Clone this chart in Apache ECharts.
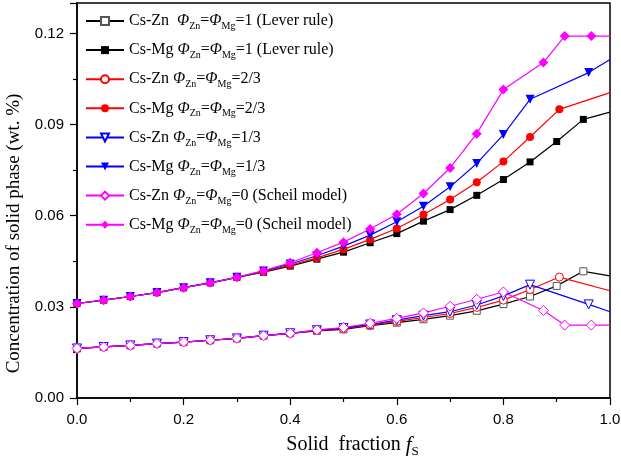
<!DOCTYPE html>
<html>
<head>
<meta charset="utf-8">
<script src="https://cdn.jsdelivr.net/npm/echarts@6.0.0/dist/echarts.min.js"></script>
<style>
  html, body { margin: 0; padding: 0; background: #fff; }
  #chart { width: 621px; height: 470px; }
</style>
</head>
<body>
<div id="chart"></div>
<script>
// --- Data ---

const xTicks = [0, 0.2, 0.4, 0.6, 0.8, 1.0];
const yTicks = [0, 0.03, 0.06, 0.09, 0.12];

// Cs-Zn (open markers, lower curves)
const znLeverX = [0, 0.05, 0.1, 0.15, 0.2, 0.25, 0.3, 0.35, 0.4, 0.45, 0.5, 0.55, 0.6, 0.65, 0.7, 0.75, 0.8, 0.85, 0.9, 0.95, 1.0];
const znLeverY = [0.0163, 0.0168, 0.0173, 0.0179, 0.0184, 0.0190, 0.0196, 0.0205, 0.0213, 0.0221, 0.0226, 0.0238, 0.0248, 0.0259, 0.0271, 0.0287, 0.0309, 0.0334, 0.0369, 0.0417, 0.0402];
const zn23X = [0, 0.05, 0.1, 0.15, 0.2, 0.25, 0.3, 0.35, 0.4, 0.45, 0.5, 0.55, 0.6, 0.65, 0.7, 0.75, 0.8, 0.85, 0.905, 1.0];
const zn23Y = [0.0163, 0.0168, 0.0173, 0.0179, 0.0184, 0.0190, 0.0196, 0.0205, 0.0213, 0.0222, 0.0228, 0.0240, 0.0252, 0.0265, 0.0278, 0.0298, 0.0322, 0.0357, 0.0398, 0.0353];
const zn13X = [0, 0.05, 0.1, 0.15, 0.2, 0.25, 0.3, 0.35, 0.4, 0.45, 0.5, 0.55, 0.6, 0.65, 0.7, 0.75, 0.8, 0.85, 0.96, 1.0];
const zn13Y = [0.0163, 0.0168, 0.0173, 0.0179, 0.0184, 0.0190, 0.0196, 0.0205, 0.0213, 0.0223, 0.0230, 0.0242, 0.0256, 0.0271, 0.0284, 0.0306, 0.0336, 0.0373, 0.0308, 0.0284];
const znScheilX = [0, 0.05, 0.1, 0.15, 0.2, 0.25, 0.3, 0.35, 0.4, 0.45, 0.5, 0.55, 0.6, 0.65, 0.7, 0.75, 0.8, 0.875, 0.915, 0.965, 1.0];
const znScheilY = [0.0163, 0.0168, 0.0173, 0.0179, 0.0184, 0.0190, 0.0196, 0.0205, 0.0213, 0.0224, 0.0232, 0.0246, 0.0262, 0.0280, 0.0302, 0.0325, 0.0349, 0.0288, 0.0240, 0.0240, 0.0240];

// Cs-Mg (filled markers, upper curves)
const mgLeverX = [0, 0.05, 0.1, 0.15, 0.2, 0.25, 0.3, 0.35, 0.4, 0.45, 0.5, 0.55, 0.6, 0.65, 0.7, 0.75, 0.8, 0.85, 0.9, 0.95, 1.0];
const mgLeverY = [0.0311, 0.0322, 0.0334, 0.0347, 0.0363, 0.0379, 0.0397, 0.0414, 0.0434, 0.0457, 0.0480, 0.0511, 0.0541, 0.0582, 0.0620, 0.0667, 0.0719, 0.0777, 0.0844, 0.0917, 0.0941];
const mg23X = [0, 0.05, 0.1, 0.15, 0.2, 0.25, 0.3, 0.35, 0.4, 0.45, 0.5, 0.55, 0.6, 0.65, 0.7, 0.75, 0.8, 0.85, 0.905, 1.0];
const mg23Y = [0.0311, 0.0322, 0.0334, 0.0347, 0.0363, 0.0379, 0.0397, 0.0416, 0.0437, 0.0461, 0.0489, 0.0522, 0.0558, 0.0604, 0.0653, 0.0710, 0.0778, 0.0859, 0.0950, 0.1005];
const mg13X = [0, 0.05, 0.1, 0.15, 0.2, 0.25, 0.3, 0.35, 0.4, 0.45, 0.5, 0.55, 0.6, 0.65, 0.7, 0.75, 0.8, 0.85, 0.96, 1.0];
const mg13Y = [0.0311, 0.0322, 0.0334, 0.0347, 0.0363, 0.0379, 0.0397, 0.0418, 0.0441, 0.0468, 0.0500, 0.0536, 0.0580, 0.0631, 0.0695, 0.0772, 0.0867, 0.0983, 0.1071, 0.1114];
const mgScheilX = [0, 0.05, 0.1, 0.15, 0.2, 0.25, 0.3, 0.35, 0.4, 0.45, 0.5, 0.55, 0.6, 0.65, 0.7, 0.75, 0.8, 0.875, 0.915, 0.965, 1.0];
const mgScheilY = [0.0311, 0.0322, 0.0334, 0.0347, 0.0363, 0.0379, 0.0397, 0.0419, 0.0445, 0.0478, 0.0513, 0.0556, 0.0605, 0.0673, 0.0757, 0.0870, 0.1015, 0.1104, 0.1191, 0.1191, 0.1191];

const seriesNames = [
    'Cs-Zn lever', 'Cs-Mg lever', 'Cs-Zn 2/3', 'Cs-Mg 2/3',
    'Cs-Zn 1/3', 'Cs-Mg 1/3', 'Cs-Zn Scheil', 'Cs-Mg Scheil'
];
const legendLabels = [
    'Cs-Zn  {phi|Φ}{sub|Zn}={phi|Φ}{sub|Mg}=1 (Lever rule)',
    'Cs-Mg {phi|Φ}{sub|Zn}={phi|Φ}{sub|Mg}=1 (Lever rule)',
    'Cs-Zn {phi|Φ}{sub|Zn}={phi|Φ}{sub|Mg}=2/3',
    'Cs-Mg {phi|Φ}{sub|Zn}={phi|Φ}{sub|Mg}=2/3',
    'Cs-Zn {phi|Φ}{sub|Zn}={phi|Φ}{sub|Mg}=1/3',
    'Cs-Mg {phi|Φ}{sub|Zn}={phi|Φ}{sub|Mg}=1/3',
    'Cs-Zn {phi|Φ}{sub|Zn}={phi|Φ}{sub|Mg}=0 (Scheil model)',
    'Cs-Mg {phi|Φ}{sub|Zn}={phi|Φ}{sub|Mg}=0 (Scheil model)'
];

// --- Helpers ---

const SERIF = '"Liberation Serif", "Times New Roman", serif';
const SANS = '"Liberation Sans", Arial, sans-serif';
const DOWN_TRI = 'path://M0,0 L10,0 L5,9 Z';

const toPoints = (xs, ys) => xs.map((x, i) => {
    // the last point sits on the right frame; the original shows no marker there
    if (i === xs.length - 1) return { value: [x, ys[i]], symbol: 'none' };
    return [x, ys[i]];
});

const makeSeries = (name, xs, ys, color, symbol, size, open, stroke) => ({
    name: name,
    type: 'line',
    data: toPoints(xs, ys),
    symbol: symbol,
    symbolSize: size,
    showAllSymbol: true,
    lineStyle: { color: color, width: 1.2 },
    itemStyle: open
        ? { color: '#fff', borderColor: stroke || color, borderWidth: 1 }
        : { color: color, borderColor: color, borderWidth: 0 },
    emphasis: { disabled: true },
    animation: false
});

// --- Chart ---

const chart = echarts.init(document.getElementById('chart'));

const option = {
    backgroundColor: '#fff',
    grid: {
        left: 77, right: 11, top: 3, bottom: 72,
        outerBoundsMode: 'none',
        containLabel: false,
        show: true, borderColor: '#000', borderWidth: 1.5
    },
    legend: {
        orient: 'vertical',
        left: 85,
        top: 13,
        padding: 0,
        itemWidth: 38,
        itemHeight: 10,
        itemGap: 10.6,
        data: seriesNames,
        formatter: (name) => legendLabels[seriesNames.indexOf(name)],
        textStyle: {
            fontFamily: SERIF,
            fontSize: 16,
            color: '#000',
            rich: {
                phi: { fontFamily: SERIF, fontSize: 16, fontStyle: 'italic', color: '#000' },
                sub: { fontFamily: SERIF, fontSize: 10, color: '#000', padding: [11, 0, 0, 0] }
            }
        }
    },
    xAxis: {
        type: 'value',
        min: 0,
        max: 1,
        interval: 0.2,
        name: 'Solid  fraction {f|f}{s|S}',
        nameLocation: 'middle',
        nameGap: 34,
        nameTextStyle: {
            fontFamily: SERIF, fontSize: 20, color: '#000',
            padding: [0, 0, 0, 18],
            rich: {
                f: { fontFamily: SERIF, fontSize: 21, fontStyle: 'italic', color: '#000' },
                s: { fontFamily: SERIF, fontSize: 13, color: '#000', padding: [13, 0, 0, 0] }
            }
        },
        axisLine: { lineStyle: { color: '#000', width: 1.5 } },
        axisTick: { inside: false, length: 7, lineStyle: { color: '#000', width: 1.2 } },
        minorTick: { show: true, splitNumber: 2, length: 4, lineStyle: { color: '#000', width: 1.2 } },
        splitLine: { show: false },
        axisLabel: {
            margin: 14,
            fontFamily: SANS,
            fontSize: 15,
            color: '#000',
            formatter: (v) => v.toFixed(1)
        }
    },
    yAxis: {
        type: 'value',
        min: 0,
        max: 0.13,
        interval: 0.03,
        name: 'Concentration of solid phase (wt. %)',
        nameLocation: 'middle',
        nameRotate: 90,
        nameGap: 49,
        nameTextStyle: {
            fontFamily: SERIF, fontSize: 19, color: '#000',
            padding: [0, 66, 0, 0]
        },
        axisLine: { lineStyle: { color: '#000', width: 1.5 } },
        axisTick: { inside: false, length: 7, lineStyle: { color: '#000', width: 1.2 } },
        minorTick: { show: true, splitNumber: 2, length: 4, lineStyle: { color: '#000', width: 1.2 } },
        splitLine: { show: false },
        axisLabel: {
            margin: 13,
            fontFamily: SANS,
            fontSize: 15,
            color: '#000',
            showMaxLabel: false,
            formatter: (v) => (yTicks.indexOf(Math.round(v * 100) / 100) >= 0 ? v.toFixed(2) : '')
        }
    },
    series: [
        makeSeries(seriesNames[0], znLeverX, znLeverY, '#000', 'rect', 7, true, '#555'),
        makeSeries(seriesNames[1], mgLeverX, mgLeverY, '#000', 'rect', 7, false),
        makeSeries(seriesNames[2], zn23X, zn23Y, '#ff0000', 'circle', 8, true),
        makeSeries(seriesNames[3], mg23X, mg23Y, '#ff0000', 'circle', 8, false),
        makeSeries(seriesNames[4], zn13X, zn13Y, '#0000ff', DOWN_TRI, 9, true),
        makeSeries(seriesNames[5], mg13X, mg13Y, '#0000ff', DOWN_TRI, 9, false),
        makeSeries(seriesNames[6], znScheilX, znScheilY, '#ff00ff', 'diamond', 10, true),
        makeSeries(seriesNames[7], mgScheilX, mgScheilY, '#ff00ff', 'diamond', 10, false)
    ]
};

chart.setOption(option);
window.addEventListener('resize', () => chart.resize());
</script>
</body>
</html>
